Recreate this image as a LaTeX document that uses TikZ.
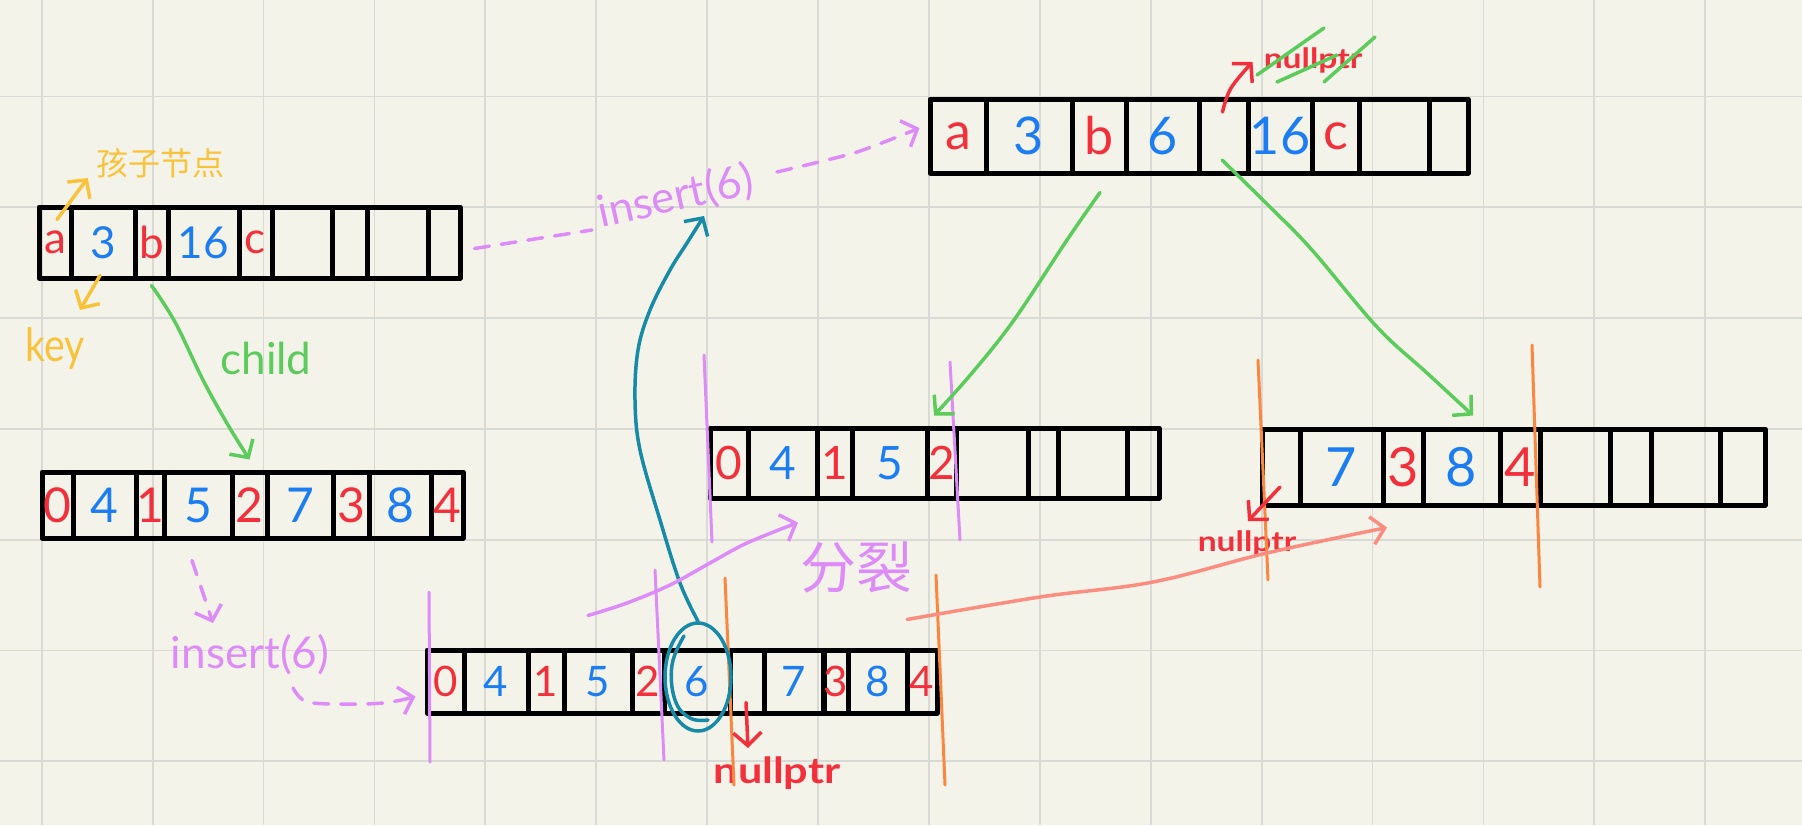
\documentclass[tikz,border=0pt]{standalone}
\usepackage{fontspec}
\setmainfont{Lato}
\newfontfamily\cjk{Noto Sans CJK SC}
\usetikzlibrary{arrows.meta,calc,shapes.geometric}
\definecolor{bg}{HTML}{F4F3E9}
\definecolor{gridc}{HTML}{D9D9D5}
\definecolor{cr}{HTML}{F2303C}
\definecolor{cb}{HTML}{1C7CF2}
\definecolor{cy}{HTML}{F8C33A}
\definecolor{cg}{HTML}{5BCB5B}
\definecolor{cp}{HTML}{DD8CF7}
\definecolor{co}{HTML}{FA8640}
\definecolor{cs}{HTML}{FA8C80}
\definecolor{ct}{HTML}{168AA6}
\newcommand\mkrow[5]{%
  \foreach \xl/\xr/\tx/\col [count=\ci] in {#5}{%
    \node[cell, minimum width={(\xr-\xl)*1pt}, minimum height=#3pt, text=\col, font=\fontsize{#4}{#4}\selectfont] (#1\ci) at ({(\xl+\xr)/2},#2) {\tx};
  }%
}
\begin{document}
\begin{tikzpicture}[x=1pt,y=-1pt,
  cell/.style={draw=black, line width=5pt, inner sep=0pt, line join=round},
  ink/.style={line width=3.5pt, line cap=round, line join=round},
  arrowhd/.style={-{Straight Barb[length=13pt,width=28pt]}},
  pinkdash/.style={ink, draw=cp, dash pattern=on 15pt off 12pt},
  vbar/.style={line width=3pt, line cap=round},
  lbl/.style={inner sep=0pt}]
\fill[bg] (0,0) rectangle (1802,825);
\useasboundingbox (0,0) rectangle (1802,825);
\foreach \k in {0,...,15} \draw[gridc, line width=1.8pt] ({41.7+110.9*\k},0) -- ({41.7+110.9*\k},825);
\foreach \k in {0,...,6} \draw[gridc, line width=1.8pt] (0,{96.5+110.8*\k}) -- (1802,{96.5+110.8*\k});

% arrays
\mkrow{A}{242.5}{71}{44}{39/71/a/cr, 71/135/3/cb, 135/168/b/cr, 168/239/16/cb, 239/272/c/cr, 272/332/{}/cr, 332/367/{}/cr, 367/428/{}/cr, 428/460/{}/cr}
\mkrow{B}{505}{66}{48}{42/73/0/cr, 73/136/4/cb, 136/164/1/cr, 164/232/5/cb, 232/267/2/cr, 267/333/7/cb, 333/369/3/cr, 369/431/8/cb, 431/463/4/cr}
\mkrow{C}{681.5}{63}{42}{427/464/0/cr, 464/528/4/cb, 528/564/1/cr, 564/632/5/cb, 632/664/2/cr, 664/730/6/cb, 730/764/{}/cr, 764/824/7/cb, 824/848/3/cr, 848/907/8/cb, 907/937/4/cr}
\mkrow{D}{463}{70}{46}{710/748/0/cr, 748/817/4/cb, 817/852/1/cr, 852/927/5/cb, 927/956/2/cr, 956/1028/{}/cr, 1028/1058/{}/cr, 1058/1127/{}/cr, 1127/1159/{}/cr}
\mkrow{E}{136}{74}{52}{930/986/a/cr, 986/1072/3/cb, 1072/1126/b/cr, 1126/1199/6/cb, 1199/1248/{}/cr, 1248/1312/16/cb, 1312/1359/c/cr, 1359/1429/{}/cr, 1429/1468/{}/cr}
\mkrow{F}{467}{76}{54}{1262/1300/{}/cr, 1300/1383/7/cb, 1383/1423/3/cr, 1423/1500/8/cb, 1500/1540/4/cr, 1540/1610/{}/cr, 1610/1651/{}/cr, 1651/1720/{}/cr, 1720/1765/{}/cr}

% labels
\node[lbl, text=cy, font=\cjk\fontsize{32}{32}\selectfont] (lchild) at (160,163) {孩子节点};
\node[lbl, text=cy, font=\fontsize{46}{46}\selectfont, xscale=0.85] (lkey) at (55,348) {key};
\node[lbl, text=cg, font=\fontsize{44}{44}\selectfont] (lchd) at (266,358) {child};
\node[lbl, text=cp, font=\fontsize{44}{44}\selectfont] (ins1) at (250,655) {insert(6)};
\node[lbl, text=cp, font=\fontsize{44}{44}\selectfont, rotate=12.5] (ins2) at (676,197) {insert(6)};
\node[lbl, text=cp, font=\cjk\fontsize{56}{56}\selectfont] (split) at (856,567) {分裂};
\node[lbl, text=cr, font=\bfseries\fontsize{36}{36}\selectfont, xscale=1.2] (np1) at (777,773) {nullptr};
\node[lbl, text=cr, font=\bfseries\fontsize{28}{28}\selectfont, xscale=1.2] (np2) at (1247,543) {nullptr};
\node[lbl, text=cr, font=\bfseries\fontsize{28}{28}\selectfont, xscale=1.2] (np3) at (1313,60) {nullptr};

% free ends
\coordinate (keytip) at (80,310);
\coordinate (ins1top) at (213,623);
\coordinate (ins2left) at (592,230);
\coordinate (ins2right) at (777,172);
\coordinate (ins2tip) at (704,216);
\coordinate (np1tip) at (748,748);
\coordinate (np2tip) at (1248,521);

% vertical split marks
\draw[vbar, cp] (429,592) -- (430,762);
\draw[vbar, cp] (655,570) -- (664,760);
\draw[vbar, cp] (704,355) -- (712,542);
\draw[vbar, cp] (950,362) -- (960,540);
\draw[vbar, co] (725,578) -- (734,785);
\draw[vbar, co] (936,575) -- (945,785);
\draw[vbar, co] (1258,360) -- (1268,580);
\draw[vbar, co] (1532,345) -- (1540,587);

% yellow annotations
\draw[ink, cy, arrowhd] ($(A1.north)+(2,15)$) -- ($(lchild.south west)+(-8,0)$);
\draw[ink, cy, arrowhd] ($(A2.south)+(-3,-5)$) -- (keytip);

% green child arrow
\draw[ink, cg, arrowhd] plot[smooth, tension=0.6] coordinates {($(A3.south)+(0,5)$) (175,322) (203,380) (228,425) ($(B5.north)+(0,-10)$)};

% pink dashed insert arrows
\draw[pinkdash, arrowhd] ($(B4.south)+(-6,20)$) -- (ins1top);
\draw[pinkdash, arrowhd] plot[smooth, tension=0.6] coordinates {(293,688) (305,701) (333,704) (383,703) ($(C1.west)+(-9,15)$)};
\draw[pinkdash] ($(A9.east)+(12,6)$) -- (ins2left);
\draw[pinkdash, arrowhd] plot[smooth, tension=0.6] coordinates {(ins2right) (827,160) (863,150) ($(E1.west)+(-8,-8)$)};

% teal oval and arrow
\node[draw=ct, line width=3.5pt, ellipse, minimum width=66pt, minimum height=108pt, inner sep=0pt] (oval) at (698,677) {};
\draw[ink, ct] plot[smooth, tension=0.7] coordinates {(684,636) (672,665) (675,700) (690,718) (708,720)};
\draw[ink, ct, arrowhd] plot[smooth, tension=0.6] coordinates {(oval.north) (680,583) (660,520) (640,450) (635,400) (638,350) (650,310) (670,270) (687,243) (ins2tip)};

% red nullptr arrows
\draw[ink, cr, arrowhd] ($(C7.center)+(-1,21)$) -- (np1tip);
\draw[ink, cr, arrowhd] plot[smooth, tension=0.6] coordinates {($(E5.center)+(-1,-24)$) (1231,88) ($(np3.west)+(-11,2)$)};
\draw[ink, cr, arrowhd] ($(F1.center)+(-1,20)$) -- (np2tip);
% green strike-through
\draw[ink, cg] (1257,75) -- (1324,28);
\draw[ink, cg] (1277,82) -- (1337,55);
\draw[ink, cg] (1324,82) -- (1375,37);

% green tree arrows
\draw[ink, cg, arrowhd] plot[smooth, tension=0.6] coordinates {($(E3.south)+(1,17)$) (1067,240) (1014,320) (972,373) ($(D5.north)+(-7.5,-10)$)};
\draw[ink, cg, arrowhd] plot[smooth, tension=0.6] coordinates {($(E5.center)+(-1.5,24)$) (1270,207) (1312,250) (1377,327) (1427,373) ($(F4.north)+(11.5,-11)$)};

% split arrows
\draw[ink, cp, arrowhd] plot[smooth, tension=0.6] coordinates {($(C4.north)+(-10,-32)$) (627,603) (670,585) (710,563) (747,543) ($(D2.south)+(15.5,22)$)};
\draw[ink, cs, arrowhd] plot[smooth, tension=0.6] coordinates {($(C10.north)+(29.5,-28)$) (1040,597) (1153,582) (1267,553) ($(F3.south)+(-16,20)$)};
\end{tikzpicture}
\end{document}
